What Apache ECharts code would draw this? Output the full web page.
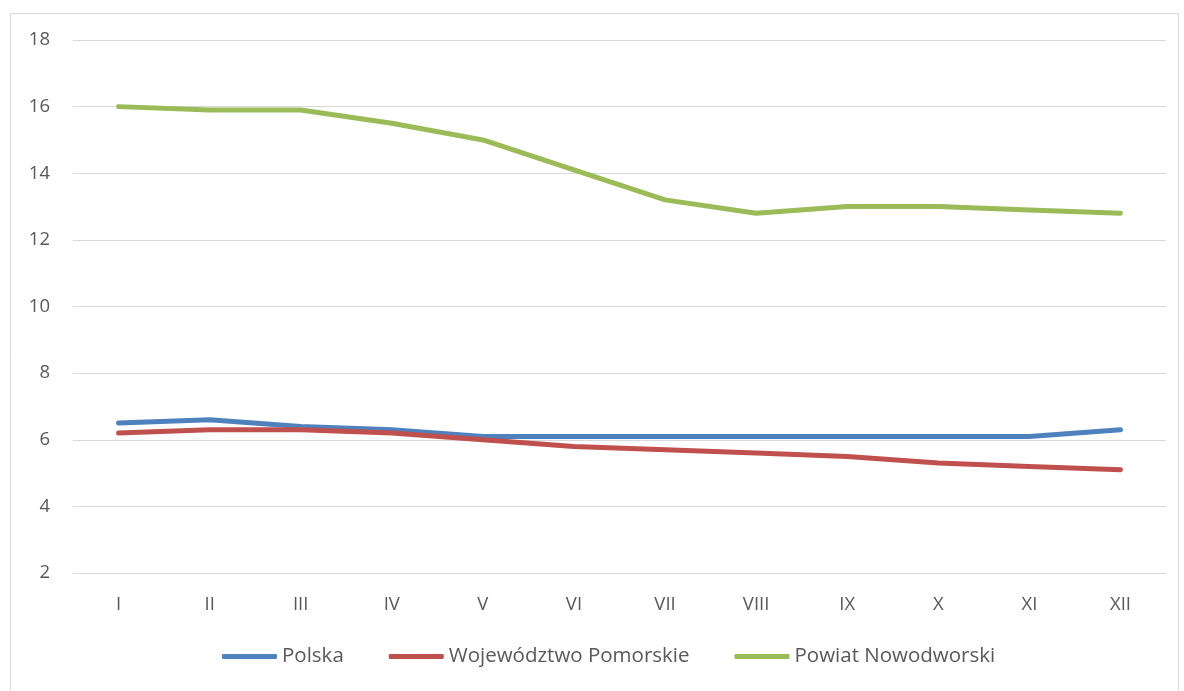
<!DOCTYPE html>
<html>
<head>
<meta charset="utf-8">
<script src="https://cdn.jsdelivr.net/npm/echarts@6/dist/echarts.min.js"></script>
<style>
html,body{margin:0;padding:0;background:#fff;}
#chart{width:1184px;height:691px;}
</style>
</head>
<body>
<div id="chart"></div>
<script>
const categories = ['I','II','III','IV','V','VI','VII','VIII','IX','X','XI','XII'];
const polska = [6.5, 6.6, 6.4, 6.3, 6.1, 6.1, 6.1, 6.1, 6.1, 6.1, 6.1, 6.3];
const pomorskie = [6.2, 6.3, 6.3, 6.2, 6.0, 5.8, 5.7, 5.6, 5.5, 5.3, 5.2, 5.1];
const nowodworski = [16.0, 15.9, 15.9, 15.5, 15.0, 14.1, 13.2, 12.8, 13.0, 13.0, 12.9, 12.8];
const seriesNames = ['Polska', 'Województwo Pomorskie', 'Powiat Nowodworski'];
const colors = ['#4f81bd', '#c0504d', '#9bbb59'];

const chart = echarts.init(document.getElementById('chart'), null, {renderer: 'canvas'});
const font = '"Open Sans", "Noto Sans", sans-serif';
const mk = (name, data, color) => ({
  name, type: 'line', data, symbol: 'none', smooth: false,
  lineStyle: {width: 5, color, cap: 'round', join: 'round'},
  itemStyle: {color},
  emphasis: {disabled: true}
});
chart.setOption({
  animation: false,
  color: colors,
  graphic: [{
    type: 'rect', left: 8, top: 11, z: -1,
    shape: {width: 1168, height: 678},
    style: {fill: 'none', stroke: '#d9d9d9', lineWidth: 1}
  }],
  grid: {left: 73, right: 18, top: 40, bottom: 118},
  legend: {
    bottom: 19, left: 217,
    icon: 'roundRect', itemWidth: 55, itemHeight: 5, itemGap: 45,
    textStyle: {color: '#595959', fontSize: 20.5, fontFamily: font},
    data: seriesNames
  },
  xAxis: {
    type: 'category', data: categories, boundaryGap: true,
    axisLine: {show: false}, axisTick: {show: false},
    axisLabel: {color: '#595959', fontSize: 18.5, fontFamily: font, margin: 22}
  },
  yAxis: {
    type: 'value', min: 2, max: 18, interval: 2,
    axisLine: {show: false}, axisTick: {show: false},
    splitLine: {lineStyle: {color: '#d9d9d9', width: 1}},
    axisLabel: {color: '#595959', fontSize: 18.5, fontFamily: font, margin: 23}
  },
  series: [
    mk(seriesNames[0], polska, colors[0]),
    mk(seriesNames[1], pomorskie, colors[1]),
    mk(seriesNames[2], nowodworski, colors[2])
  ]
});
</script>
</body>
</html>
